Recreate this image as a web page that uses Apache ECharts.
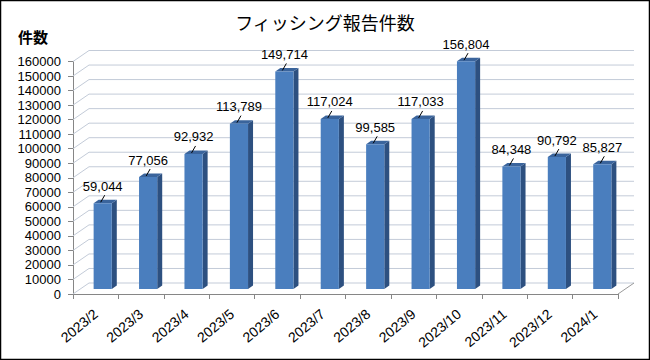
<!DOCTYPE html>
<html><head><meta charset="utf-8">
<script src="https://cdn.jsdelivr.net/npm/echarts@6/dist/echarts.min.js"></script>
<style>html,body{margin:0;padding:0;background:#fff}#c{width:650px;height:360px}</style>
</head><body><div id="c"></div>
<script>
const categories = ['2023/2','2023/3','2023/4','2023/5','2023/6','2023/7','2023/8','2023/9','2023/10','2023/11','2023/12','2024/1'];
const values = [59044, 77056, 92932, 113789, 149714, 117024, 99585, 117033, 156804, 84348, 90792, 85827];
const yTicks = [0,10000,20000,30000,40000,50000,60000,70000,80000,90000,100000,110000,120000,130000,140000,150000,160000];

const DX = 16, DY = -11;      // wall depth
const OX = 7, OY = -5;        // bar placement depth
const SX = 5, SY = -3.5;      // bar depth
const fmt = v => String(v).replace(/\B(?=(\d{3})+(?!\d))/g, ',');

const chart = echarts.init(document.getElementById('c'), null, {renderer:'svg'});
chart.setOption({
  animation:false,
  backgroundColor:'#fff',
  title:{text:'フィッシング報告件数', left:'center', top:8,
    textStyle:{fontFamily:'Noto Sans CJK JP', fontSize:18, fontWeight:'normal', color:'#000'}},
  graphic:[
    {type:'rect', shape:{x:0.5,y:0.5,width:649,height:359}, style:{fill:null, stroke:'#000', lineWidth:1.5}, z:100},
    {type:'text', left:18, top:29, style:{text:'件数', font:'bold 15px "Noto Sans CJK JP"', fill:'#000'}}
  ],
  grid:{left:73, right:32, top:61.5, bottom:66},
  xAxis:{type:'category', data:categories,
    axisLine:{lineStyle:{color:'#868686'}},
    axisTick:{show:true, length:5, lineStyle:{color:'#868686'}},
    axisLabel:{interval:0, rotate:40, margin:18, fontSize:14, color:'#000', fontFamily:'Liberation Sans'}},
  yAxis:{type:'value', min:0, max:160000, interval:10000,
    axisLine:{show:true, lineStyle:{color:'#868686'}},
    axisTick:{show:true, length:5, lineStyle:{color:'#868686'}},
    splitLine:{show:false},
    axisLabel:{fontSize:13, color:'#000', margin:12, fontFamily:'Liberation Sans', formatter: v => String(v)}},
  series:[
    {type:'custom', clip:false, z:1, silent:true,
     data: yTicks.map(v => [0, v]),
     renderItem:(params, api) => {
       const v = api.value(1);
       const y = api.coord([0, v])[1];
       const cs = params.coordSys;
       const l = cs.x, r = cs.x + cs.width;
       const ch = [{type:'polyline', shape:{points:[[l,y],[l+DX,y+DY],[r+DX,y+DY]]},
         style:{stroke:'#c3cbd8', lineWidth:1, fill:null}}];
       if (v === 0) ch.push({type:'line', shape:{x1:r,y1:y,x2:r+DX,y2:y+DY}, style:{stroke:'#9a9a9a', lineWidth:1}});
       return {type:'group', children:ch};
     }},
    {type:'custom', clip:false, z:3, silent:true,
     data: values.map((v,i) => [i, v]),
     renderItem:(params, api) => {
       const i = api.value(0), v = api.value(1);
       const b = api.coord([i, 0]), t = api.coord([i, v]);
       const w = api.size([1, 0])[0] * 0.4;
       const fx = b[0] + OX - w/2;
       const top = t[1] + OY, bot = b[1] + OY;
       const cx = fx + w/2;
       return {type:'group', children:[
         {type:'polygon', shape:{points:[[fx+w,top],[fx+w+SX,top+SY],[fx+w+SX,bot+SY],[fx+w,bot]]}, style:{fill:'#2d5080'}},
         {type:'polygon', shape:{points:[[fx,top],[fx+SX,top+SY],[fx+w+SX,top+SY],[fx+w,top]]}, style:{fill:'#3a649c'}},
         {type:'rect', shape:{x:fx, y:top, width:w, height:bot-top}, style:{fill:'#4a7ebe'}},
         {type:'line', shape:{x1:cx-2, y1:top-1, x2:cx+2, y2:top-8}, style:{stroke:'#000', lineWidth:1}},
         {type:'text', x:cx, y:top-17, style:{text:fmt(v), fill:'#000', font:'13px "Liberation Sans"', align:'center', verticalAlign:'middle'}}
       ]};
     }}
  ]
});
</script></body></html>
